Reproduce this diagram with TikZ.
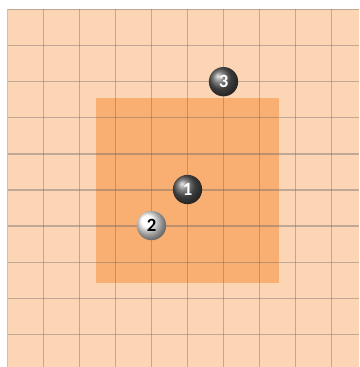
\documentclass[tikz,border=0pt]{standalone}
\usepackage{fontspec}
\setmainfont{Carlito}
\definecolor{peach}{HTML}{FCD5B5}
\definecolor{tangerine}{HTML}{F79646}
\tikzset{
  gridline/.style={draw=black!60, draw opacity=0.4, line width=0.04cm},
  zonebox/.style={fill=tangerine, fill opacity=0.6},
  darkball/.style={circle, shade, ball color=black!65, text=white,
                   font=\bfseries\fontsize{16}{16}\selectfont,
                   minimum size=0.88cm, inner sep=0pt},
  lightball/.style={darkball, ball color=white, text=black},
}
\begin{document}
\begin{tikzpicture}[x=0.03cm, y=-0.03cm]
  \useasboundingbox (0,0) rectangle (359,367);
  % board
  \fill[peach] (7.5,9.5) rectangle (359,367);
  \fill[zonebox] (95.7,98.3) rectangle (279.3,282.7);
  \foreach \i in {0,...,9} {
    \draw[gridline] ({7.5+36*\i},9.5) -- ({7.5+36*\i},367);
    \draw[gridline] (7.5,{9.5+36.1*\i}) -- (359,{9.5+36.1*\i});
  }
  % balls
  \node[darkball] (ball1) at (187.5,189.5) {1};
  \node[lightball] (ball2) at (151.5,225.6) {2};
  \node[darkball] (ball3) at (223.5,81.7) {3};
\end{tikzpicture}
\end{document}
